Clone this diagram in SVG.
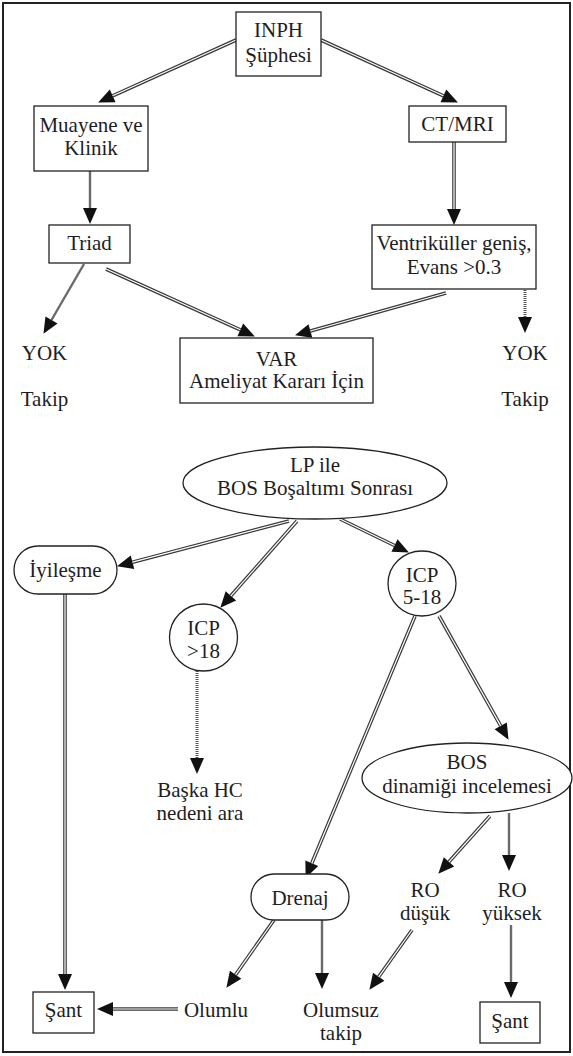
<svg xmlns="http://www.w3.org/2000/svg" width="573" height="1056" viewBox="0 0 573 1056" font-family="Liberation Serif, Times New Roman, serif">
<defs>
<style>
text{font-family:"Liberation Serif","Times New Roman",serif;font-size:21px;fill:#1e1e1e;text-anchor:middle}
.box{fill:#fff;stroke:#222;stroke-width:1.3}
.frame{fill:#fff;stroke:#222;stroke-width:2}
.dbl{fill:none;stroke:#3a3a3a;stroke-width:3.6;marker-end:url(#ah)}
.dbl-in{fill:none;stroke:#fff;stroke-width:1.2}
.sgl{fill:none;stroke:#6a6a6a;stroke-width:2.4;marker-end:url(#ah)}
.dot{fill:none;stroke:#555;stroke-width:3;stroke-dasharray:1 1;marker-end:url(#ah)}
</style>
<marker id="ah" markerUnits="userSpaceOnUse" markerWidth="17" markerHeight="14" refX="0" refY="7" orient="auto" overflow="visible">
<path d="M0,0 L16,7 L0,14 z" fill="#111"/>
</marker>
</defs>
<rect class="frame" x="3" y="3" width="567" height="1049"/>

<g id="connectors">
<path id="c1" class="dbl" d="M236,40 L112.7,95.8"/>
<path id="c2" class="dbl" d="M321,40 L443.4,95.8"/>
<path id="c3" class="sgl" d="M90,171 L90,208"/>
<path id="c4" class="dbl" d="M454,142 L454,209"/>
<path id="c5" class="sgl" d="M84,264 L51.5,320"/>
<path id="c6" class="dbl" d="M106,269 L240.3,329.8"/>
<path id="c7" class="dbl" d="M446,293 L310.4,331"/>
<path id="c8" class="dot" d="M525,290 L525,317"/>
<path id="c9" class="dbl" d="M289,521 L132.5,562.2"/>
<path id="c10" class="dbl" d="M297,521 L230.9,595.8"/>
<path id="c11" class="dbl" d="M340,519 L394.5,545.5"/>
<path id="c12" class="dbl" d="M65,594 L65,974"/>
<path id="c13" class="dbl" d="M415,616 L311.8,863.2"/>
<path id="c14" class="dbl" d="M439,616 L500.7,725.9"/>
<path id="c15" class="dot" d="M197,671 L197,758"/>
<path id="c16" class="dbl" d="M490,816 L449,861.8"/>
<path id="c17" class="sgl" d="M509,813 L509,855"/>
<path id="c18" class="dbl" d="M274,920 L235.6,974.7"/>
<path id="c19" class="sgl" d="M322,920 L322,973"/>
<path id="c20" class="dbl" d="M412,930 L378.7,976.8"/>
<path id="c21" class="sgl" d="M511,925 L511,982"/>
<path id="c22" class="dbl" d="M178,1009 L113,1009"/>
<g class="dbl-in">
<path d="M236,40 L112.7,95.8"/>
<path d="M321,40 L443.4,95.8"/>
<path d="M454,142 L454,209"/>
<path d="M106,269 L240.3,329.8"/>
<path d="M446,293 L310.4,331"/>
<path d="M289,521 L132.5,562.2"/>
<path d="M297,521 L230.9,595.8"/>
<path d="M340,519 L394.5,545.5"/>
<path d="M65,594 L65,974"/>
<path d="M415,616 L311.8,863.2"/>
<path d="M439,616 L500.7,725.9"/>
<path d="M490,816 L449,861.8"/>
<path d="M274,920 L235.6,974.7"/>
<path d="M412,930 L378.7,976.8"/>
<path d="M178,1009 L113,1009"/>
</g>
</g>

<g id="inph"><rect class="box" x="236" y="12" width="85" height="64"/><text x="278.5" y="37">INPH</text><text x="278.5" y="62">Şüphesi</text></g>
<g id="muayene"><rect class="box" x="34" y="106" width="114" height="65"/><text x="91" y="132">Muayene ve</text><text x="91" y="155">Klinik</text></g>
<g id="ctmri"><rect class="box" x="409" y="106" width="97" height="36"/><text x="457.5" y="131">CT/MRI</text></g>
<g id="triad"><rect class="box" x="49" y="225" width="81" height="38"/><text x="89.5" y="250">Triad</text></g>
<g id="ventrikuller"><rect class="box" x="372" y="225" width="164" height="64"/><text x="454" y="250">Ventriküller geniş,</text><text x="454" y="274">Evans &gt;0.3</text></g>
<g id="yok-left"><text x="44.5" y="360">YOK</text><text x="44.5" y="406">Takip</text></g>
<g id="var"><rect class="box" x="180" y="338" width="193" height="65"/><text x="276.5" y="366">VAR</text><text x="276.5" y="388">Ameliyat Kararı İçin</text></g>
<g id="yok-right"><text x="525" y="360">YOK</text><text x="525" y="406">Takip</text></g>
<g id="lp"><ellipse class="box" cx="315" cy="483" rx="132" ry="36"/><text x="315" y="472">LP ile</text><text x="315" y="495">BOS Boşaltımı Sonrası</text></g>
<g id="iyilesme"><rect class="box" x="14" y="546" width="103" height="48" rx="24" ry="24"/><text x="65.5" y="577">İyileşme</text></g>
<g id="icp518"><ellipse class="box" cx="422" cy="583.5" rx="34" ry="32.5"/><text x="422" y="582">ICP</text><text x="422" y="604">5-18</text></g>
<g id="icp18"><ellipse class="box" cx="203.5" cy="637.5" rx="34" ry="33.5"/><text x="203.5" y="635">ICP</text><text x="203.5" y="658">&gt;18</text></g>
<g id="baska"><text x="200" y="797">Başka HC</text><text x="200" y="820">nedeni ara</text></g>
<g id="bos"><ellipse class="box" cx="467" cy="778" rx="105" ry="35"/><text x="467" y="769">BOS</text><text x="467" y="793">dinamiği incelemesi</text></g>
<g id="drenaj"><rect class="box" x="251" y="874" width="98" height="46" rx="23" ry="23"/><text x="300" y="905">Drenaj</text></g>
<g id="ro-dusuk"><text x="425" y="897">RO</text><text x="425" y="920">düşük</text></g>
<g id="ro-yuksek"><text x="512" y="897">RO</text><text x="512" y="920">yüksek</text></g>
<g id="sant-left"><rect class="box" x="33" y="992" width="61" height="41"/><text x="63.5" y="1017">Şant</text></g>
<g id="olumlu"><text x="216" y="1017">Olumlu</text></g>
<g id="olumsuz"><text x="341" y="1017">Olumsuz</text><text x="341" y="1040">takip</text></g>
<g id="sant-right"><rect class="box" x="480" y="1002" width="60" height="41"/><text x="510" y="1028">Şant</text></g>
</svg>
